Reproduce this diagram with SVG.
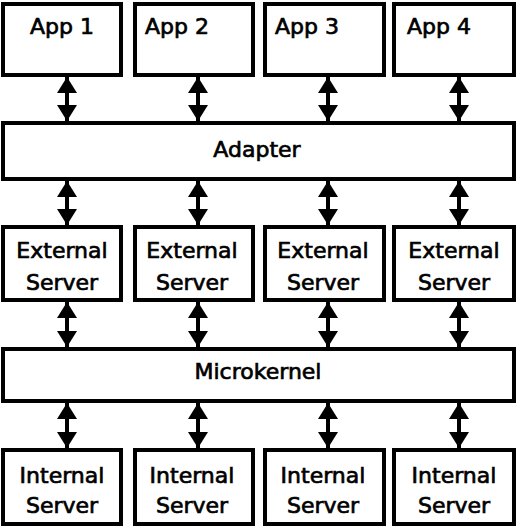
<svg xmlns="http://www.w3.org/2000/svg" width="517" height="527" viewBox="0 0 517 527">
<style>
.box{fill:#fff;stroke:#000;stroke-width:4}
.t{font-family:"Comic Sans MS","DejaVu Sans",sans-serif;font-size:22px;fill:#000;stroke:#000;stroke-width:0.7}
.m{text-anchor:middle}
.c{stroke:#000;stroke-width:4;fill:none;marker-start:url(#ah);marker-end:url(#ah)}
</style>
<defs>
<marker id="ah" viewBox="0 0 16 20" refX="16" refY="10" markerWidth="16" markerHeight="20" markerUnits="userSpaceOnUse" orient="auto-start-reverse">
<path d="M0,0 L16,10 L0,20 z" fill="#000"/>
</marker>
</defs>
<rect width="517" height="527" fill="#fff"/>
<g id="connectors">
<line class="c" x1="67" y1="77" x2="67" y2="121"/>
<line class="c" x1="198" y1="77" x2="198" y2="121"/>
<line class="c" x1="328" y1="77" x2="328" y2="121"/>
<line class="c" x1="459" y1="77" x2="459" y2="121"/>
<line class="c" x1="67" y1="181" x2="67" y2="225"/>
<line class="c" x1="198" y1="181" x2="198" y2="225"/>
<line class="c" x1="328" y1="181" x2="328" y2="225"/>
<line class="c" x1="459" y1="181" x2="459" y2="225"/>
<line class="c" x1="67" y1="302" x2="67" y2="347"/>
<line class="c" x1="198" y1="302" x2="198" y2="347"/>
<line class="c" x1="328" y1="302" x2="328" y2="347"/>
<line class="c" x1="459" y1="302" x2="459" y2="347"/>
<line class="c" x1="67" y1="403" x2="67" y2="448"/>
<line class="c" x1="198" y1="403" x2="198" y2="448"/>
<line class="c" x1="328" y1="403" x2="328" y2="448"/>
<line class="c" x1="459" y1="403" x2="459" y2="448"/>
</g>
<g id="app1"><rect class="box" x="3" y="4" width="118" height="71"/><text class="t" x="30" y="34">App 1</text></g>
<g id="app2"><rect class="box" x="135" y="4" width="118" height="71"/><text class="t" x="145" y="34">App 2</text></g>
<g id="app3"><rect class="box" x="265" y="4" width="119" height="71"/><text class="t" x="275" y="34">App 3</text></g>
<g id="app4"><rect class="box" x="394" y="4" width="120" height="71"/><text class="t" x="407" y="34">App 4</text></g>
<g id="adapter"><rect class="box" x="3" y="123" width="511" height="56"/><text class="t m" x="257" y="157">Adapter</text></g>
<g id="ext1"><rect class="box" x="3" y="227" width="118" height="73"/><text class="t m" x="62" y="258">External</text><text class="t m" x="62" y="290">Server</text></g>
<g id="ext2"><rect class="box" x="135" y="227" width="118" height="73"/><text class="t m" x="192" y="258">External</text><text class="t m" x="192" y="290">Server</text></g>
<g id="ext3"><rect class="box" x="265" y="227" width="119" height="73"/><text class="t m" x="323" y="258">External</text><text class="t m" x="323" y="290">Server</text></g>
<g id="ext4"><rect class="box" x="394" y="227" width="120" height="73"/><text class="t m" x="454" y="258">External</text><text class="t m" x="454" y="290">Server</text></g>
<g id="microkernel"><rect class="box" x="3" y="349" width="511" height="52"/><text class="t m" x="258" y="379">Microkernel</text></g>
<g id="int1"><rect class="box" x="3" y="450" width="118" height="74"/><text class="t m" x="62" y="483">Internal</text><text class="t m" x="62" y="513">Server</text></g>
<g id="int2"><rect class="box" x="135" y="450" width="118" height="74"/><text class="t m" x="192" y="483">Internal</text><text class="t m" x="192" y="513">Server</text></g>
<g id="int3"><rect class="box" x="265" y="450" width="119" height="74"/><text class="t m" x="323" y="483">Internal</text><text class="t m" x="323" y="513">Server</text></g>
<g id="int4"><rect class="box" x="394" y="450" width="120" height="74"/><text class="t m" x="454" y="483">Internal</text><text class="t m" x="454" y="513">Server</text></g>
</svg>
